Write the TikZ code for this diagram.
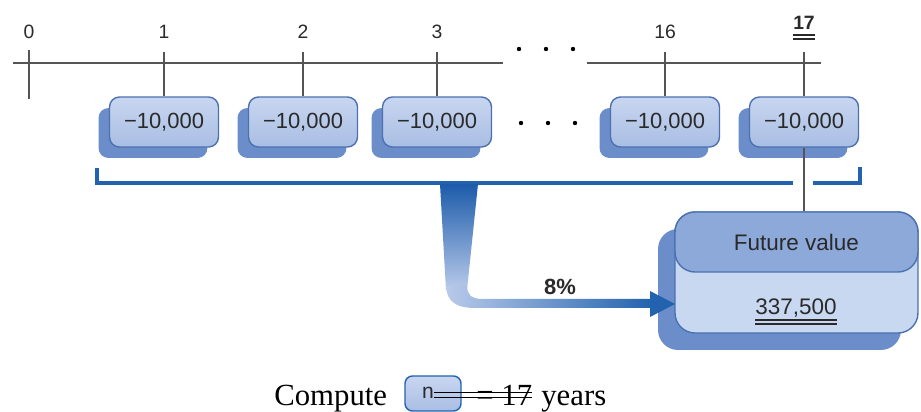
\documentclass[tikz,border=0pt]{standalone}
\usepackage{fontspec}
\setmainfont{Liberation Serif}
\setsansfont{Liberation Sans}
\usetikzlibrary{shadows}

\definecolor{boxtop}{HTML}{C8D6F0}
\definecolor{boxbot}{HTML}{A9BEE4}
\definecolor{boxedge}{HTML}{4C71B0}
\definecolor{shadowblue}{HTML}{6B8ECB}
\definecolor{headerblue}{HTML}{8DA9DA}
\definecolor{lowerfill}{HTML}{C9D8F1}
\definecolor{bracketblue}{HTML}{2262AE}
\definecolor{flowdark}{HTML}{1C5BAA}
\definecolor{flowlight}{HTML}{B9CAEA}
\definecolor{ink}{HTML}{2A2A2A}
\definecolor{rule}{HTML}{555555}

\tikzset{
  axis/.style={draw=rule, line width=0.7pt},
  ticklabel/.style={font=\sffamily\fontsize{11}{13}\selectfont, text=ink, inner sep=0pt},
  cashbox/.style={draw=boxedge, line width=0.8pt, rounded corners=0.2cm,
    top color=boxtop, bottom color=boxbot, minimum width=2.18cm, minimum height=1cm,
    inner sep=0pt, font=\sffamily\fontsize{12.5}{15}\selectfont, text=ink,
    general shadow={fill=shadowblue, shadow xshift=-0.22cm, shadow yshift=-0.22cm}},
  bracket/.style={draw=bracketblue, line width=2.3pt},
  dotmark/.style={fill=black},
  serifword/.style={font=\fontsize{17.5}{20}\selectfont, inner sep=0pt, anchor=base west}
}

\begin{document}
\begin{tikzpicture}[x=0.02cm, y=-0.02cm]
\useasboundingbox (0,0) rectangle (921,412);
\fill[white] (0,0) rectangle (921,412);

% time line, broken by the ellipsis
\coordinate (ax0) at (13,63);
\coordinate (ax1) at (503,63);
\coordinate (ax2) at (587,63);
\coordinate (ax3) at (821,63);
\draw[axis] (ax0) -- (ax1);
\draw[axis] (ax2) -- (ax3);
\foreach \x in {519,546,573} \fill[dotmark] (\x,49) circle (2.2);

% period labels
\node[ticklabel] (l0)  at (29,32)  {0};
\node[ticklabel] (l1)  at (164,32) {1};
\node[ticklabel] (l2)  at (303,32) {2};
\node[ticklabel] (l3)  at (437,32) {3};
\node[ticklabel] (l16) at (665,32) {16};
\node[ticklabel] (l17) at (804,23) {\textbf{17}};
\coordinate (u17a) at (793,35); \coordinate (u17b) at (815,35);
\coordinate (u17c) at (793,39); \coordinate (u17d) at (815,39);
\draw[ink, line width=1.1pt] (u17a) -- (u17b);
\draw[ink, line width=1.1pt] (u17c) -- (u17d);

% tick at period 0
\coordinate (t0a) at (29,50);
\coordinate (t0b) at (29,99);
\draw[axis] (t0a) -- (t0b);

% payment boxes
\node[cashbox] (b1)  at (164,122) {−10,000};
\node[cashbox] (b2)  at (303,122) {−10,000};
\node[cashbox] (b3)  at (437,122) {−10,000};
\node[cashbox] (b16) at (665,122) {−10,000};
\node[cashbox] (b17) at (804,122) {−10,000};
\foreach \x in {521,548,575} \fill[dotmark] (\x,123) circle (2.2);

\foreach \k in {1,2,3,16,17} {
  \coordinate (t\k) at (b\k.north |- 0,52);
  \draw[axis] (t\k) -- (b\k.north);
}

% future value box
\node[draw=boxedge, line width=0.8pt, fill=lowerfill, rounded corners=0.4cm,
      minimum width=4.86cm, minimum height=2.42cm, inner sep=0pt,
      general shadow={fill=shadowblue, shadow xshift=-0.34cm, shadow yshift=-0.34cm}]
      (fv) at (796.5,272.5) {};
\node[draw=boxedge, line width=0.8pt, fill=headerblue, rounded corners=0.4cm,
      minimum width=4.86cm, minimum height=1.2cm, inner sep=0pt, anchor=north,
      font=\sffamily\fontsize{12.8}{15}\selectfont, text=ink]
      (fvh) at (fv.north) {Future value};
\node[font=\sffamily\fontsize{12.8}{15}\selectfont, text=ink, inner sep=0pt, anchor=base]
      (fvv) at (796,315) {337,500};
\draw[ink, line width=0.7pt] ([yshift=-0.1cm]fvv.base west) -- ([yshift=-0.1cm]fvv.base east);
\draw[ink, line width=0.7pt] ([yshift=-0.18cm]fvv.base west) -- ([yshift=-0.18cm]fvv.base east);

% link from last payment to the future value
\draw[rule, line width=0.7pt] (b17.south) -- (b17.south |- fv.north);

% bracket spanning all payments
\coordinate (bl0) at (97,168);
\coordinate (bl1) at (97,183);
\coordinate (bl2) at (793,183);
\coordinate (br0) at (813,183);
\coordinate (br1) at (860,183);
\coordinate (br2) at (860,167);
\draw[bracket] (bl0) -- (bl1) -- (bl2);
\draw[bracket] (br0) -- (br1) -- (br2);

% compounding flow into the future value box
\shade[top color=flowdark, bottom color=flowlight]
  (440,184) -- (446,290) -- (467,290) -- (478,184) -- cycle;
\shade[left color=flowlight, right color=bracketblue]
  (446,286) .. controls (447,302) and (456,308) .. (476,308) -- (652,308)
  -- (652,299) -- (482,299) .. controls (471,299) and (467,294) .. (467,286) -- cycle;
\fill[bracketblue] (650,291) -- (675,304) -- (650,317) -- cycle;
\node[font=\sffamily\bfseries\fontsize{12.5}{15}\selectfont, text=ink, inner sep=0pt]
  (rate) at (560,287) {8\%};

% compute line
\node[serifword] (cmp) at (274,405) {Compute};
\node[draw=bracketblue, line width=0.8pt, top color=boxtop, bottom color=boxbot,
      rounded corners=0.15cm, minimum width=1.12cm, minimum height=0.7cm, inner sep=0pt]
      (nbox) at (433,393.5) {};
\node[font=\sffamily\fontsize{12}{14}\selectfont, text=ink, inner sep=0pt] (nl) at (428,393) {n};
\node[serifword] (eq) at (476,405) {= 17};
\node[serifword] (yrs) at (541,405) {years};
\draw[black, line width=0.7pt] (nl.east |- 0,392.5) -- (eq.east |- 0,392.5);
\draw[black, line width=0.7pt] (nl.east |- 0,397.5) -- (eq.east |- 0,397.5);
\end{tikzpicture}
\end{document}
